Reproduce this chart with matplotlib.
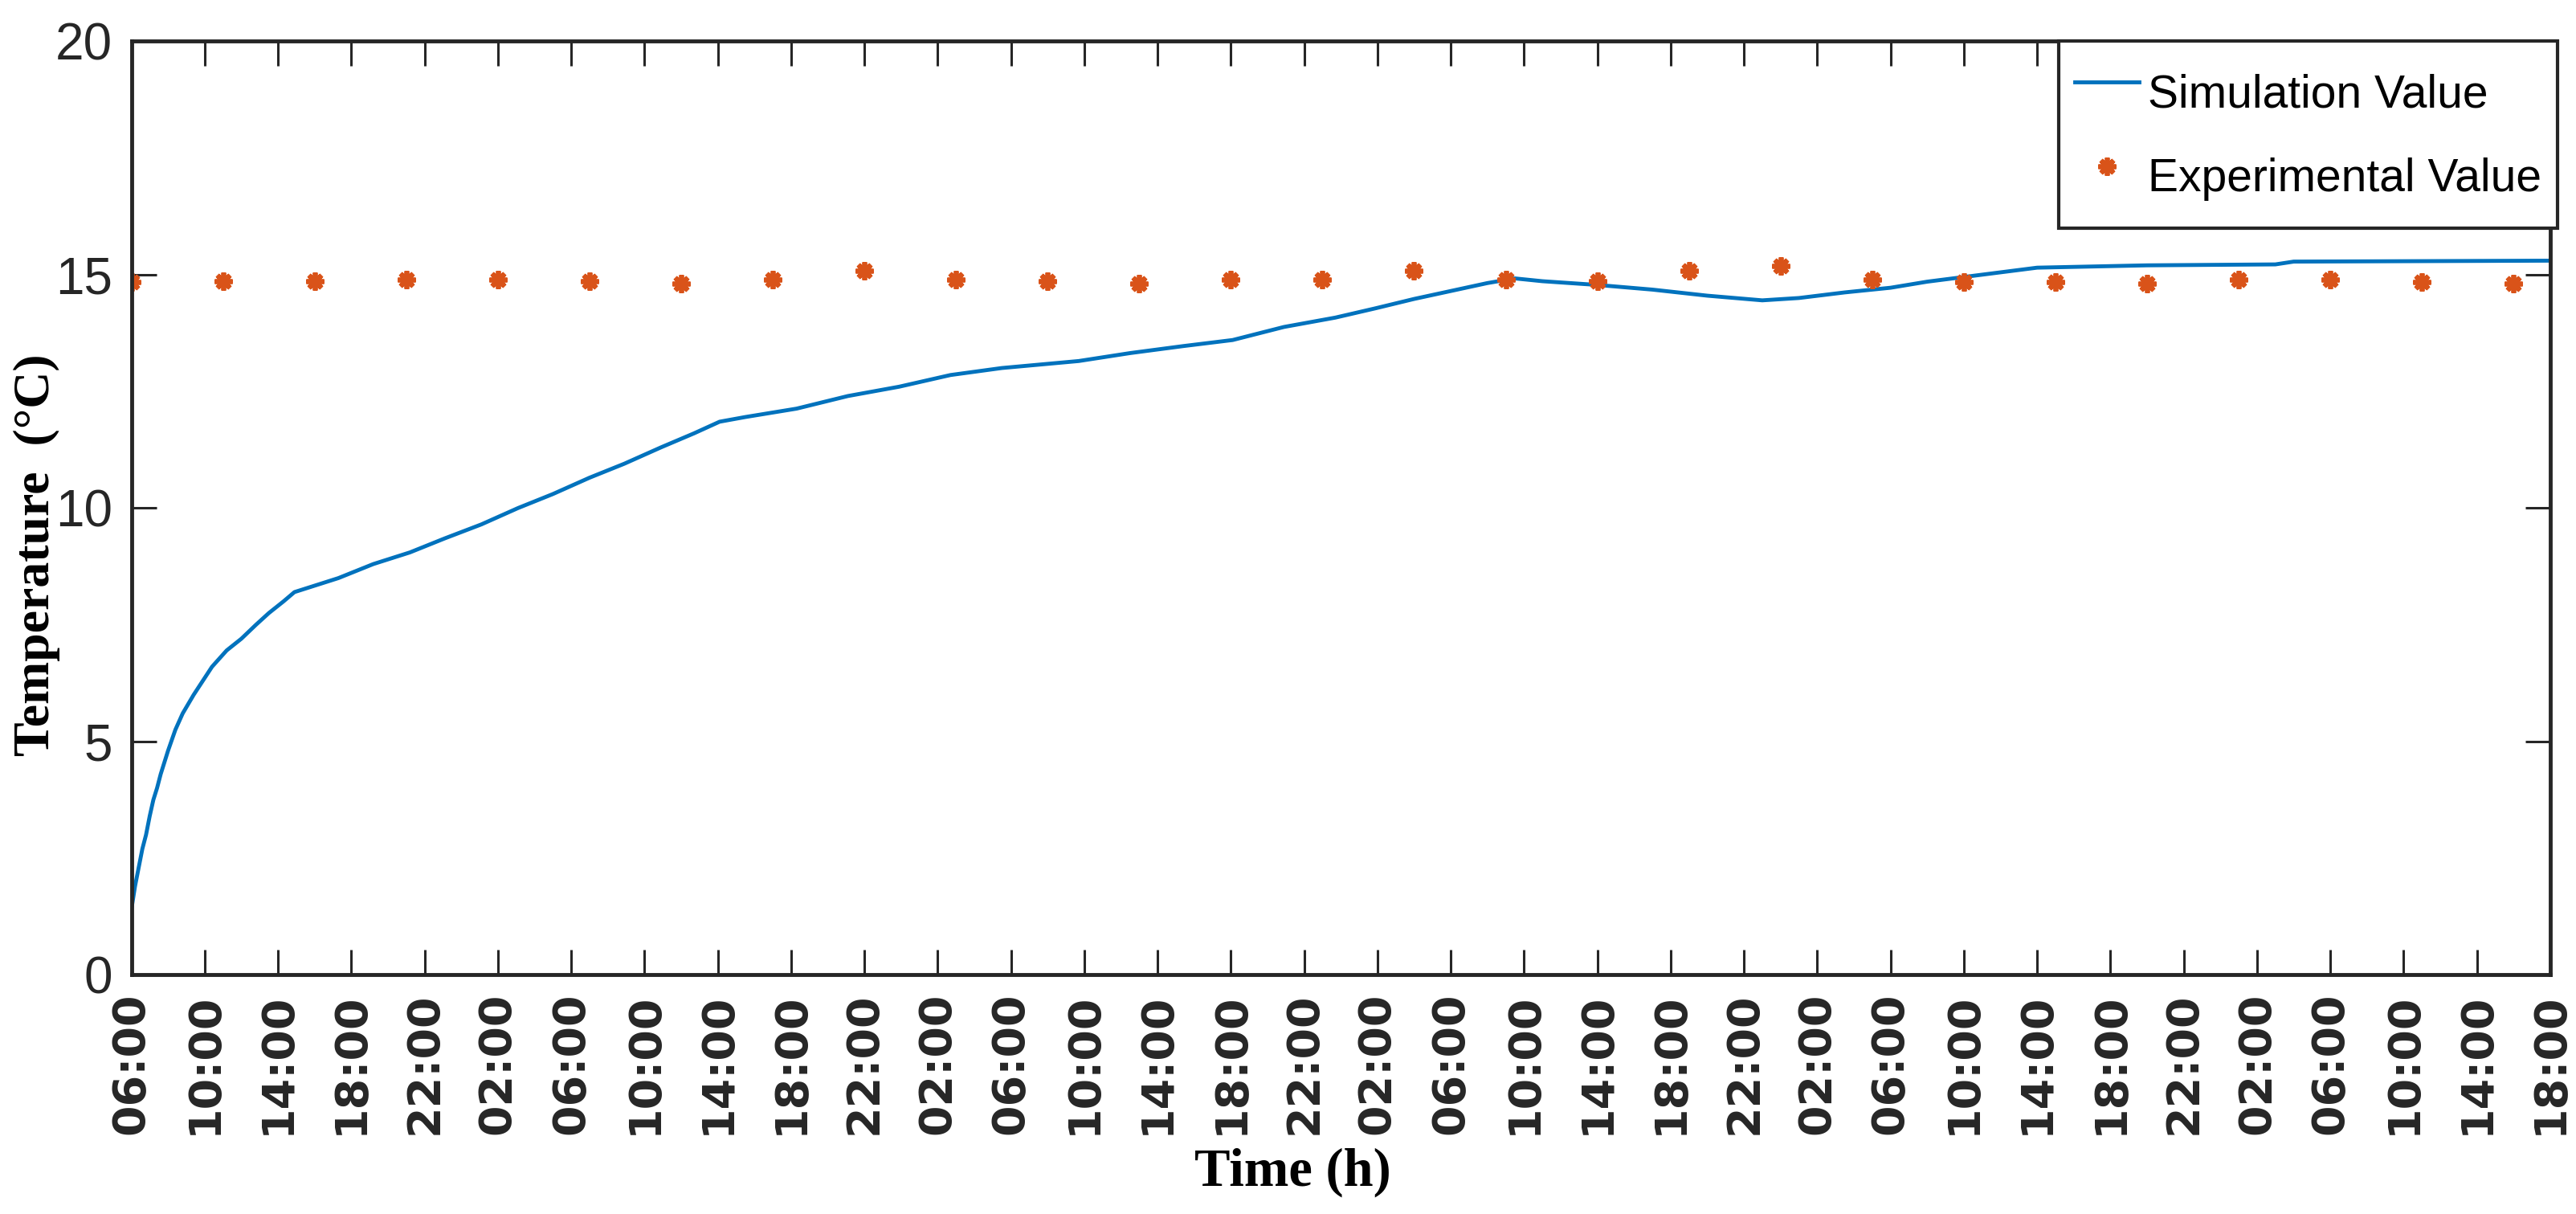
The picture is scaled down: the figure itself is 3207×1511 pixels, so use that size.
import matplotlib.pyplot as plt
import numpy as np

# simulation curve, hours since 06:00 on day 1
sim_hours = [0, 0.2, 0.4, 0.6, 0.8, 1.0, 1.2, 1.4, 1.6, 1.8, 2.0, 2.4, 2.8, 3.4, 3.9,
             4.4, 5.2, 6.0, 6.8, 7.5, 8.3, 8.9, 9.7, 11.3, 13.2, 15.2, 17.1, 19.1,
             21.1, 23.0, 25.0, 26.9, 28.9, 30.7, 32.1, 33.5, 36.3, 39.1, 41.9, 44.7,
             47.5, 51.7, 54.5, 57.4, 60.1, 62.9, 65.7, 67.9, 70.0, 72.0, 74.0, 75.5,
             77.0, 80.0, 83.0, 86.0, 89.0, 91.0, 93.5, 96.0, 98.0, 100.0, 102.0,
             104.0, 110.0, 117.0, 118.0, 132.0]
sim_temp = [1.4, 1.9, 2.3, 2.7, 3.0, 3.4, 3.75, 4.0, 4.3, 4.55, 4.8, 5.25, 5.6, 6.0, 6.3,
            6.6, 6.95, 7.2, 7.5, 7.75, 8.0, 8.2, 8.3, 8.5, 8.8, 9.05, 9.35, 9.65,
            10.0, 10.3, 10.65, 10.95, 11.3, 11.6, 11.85, 11.95, 12.13, 12.4, 12.6, 12.85,
            13.0, 13.15, 13.32, 13.47, 13.6, 13.88, 14.08, 14.28, 14.48, 14.65, 14.82, 14.92,
            14.86, 14.78, 14.68, 14.55, 14.45, 14.5, 14.62, 14.72, 14.85, 14.95, 15.05,
            15.15, 15.2, 15.22, 15.28, 15.3]

# measured points, every 5 hours
exp_hours = list(range(0, 131, 5))
exp_temp = [14.85, 14.86, 14.86, 14.9, 14.9, 14.86, 14.8, 14.9, 15.09, 14.9,
            14.86, 14.81, 14.9, 14.9, 15.09, 14.9, 14.86, 15.09, 15.19, 14.9,
            14.85, 14.85, 14.81, 14.9, 14.9, 14.85, 14.8]

tick_hours = list(range(0, 133, 4))
tick_labels = ["%02d:00" % ((6 + h) % 24) for h in tick_hours]

narrow = ['DejaVu Sans Condensed', 'Liberation Sans']
dark = '#262626'

fig = plt.figure(figsize=(32.07, 15.11), dpi=100)
ax = fig.add_axes([0.051, 0.197, 0.939, 0.769])

ax.plot(sim_hours, sim_temp, color='#0072BD', lw=3.5, label='Simulation Value')
ax.plot(exp_hours, exp_temp, ls='none', marker=(8, 2, 0), ms=16, mew=4.2,
        color='#D95319', label='Experimental Value')

ax.set_xlim(0, 132)
ax.set_ylim(0, 20)
ax.set_xticks(tick_hours)
ax.set_xticklabels(tick_labels, rotation=90, family='DejaVu Sans',
                   fontweight='bold', fontsize=40, color=dark)
ax.set_yticks([0, 5, 10, 15, 20])
ax.set_yticklabels(['0', '5', '10', '15', '20'], family=narrow, fontsize=46, color=dark)

ax.tick_params(axis='both', direction='in', length=22, width=2.2, color=dark,
               top=True, right=True)
ax.tick_params(axis='x', pad=16)
ax.tick_params(axis='y', pad=17)
for s in ax.spines.values():
    s.set_linewidth(3.5)
    s.set_color(dark)

ax.set_xlabel('Time (h)', family='Liberation Serif', fontweight='bold', fontsize=48)
ax.xaxis.set_label_coords(0.48, -0.185)
ax.set_ylabel('Temperature  (°C)', family='Liberation Serif', fontweight='bold', fontsize=46)
ax.yaxis.set_label_coords(-0.039, 0.45)
ax.yaxis.label.set_va('center')

leg = ax.legend(loc='upper right', bbox_to_anchor=(1.003, 1.0), borderaxespad=0,
                prop={'family': narrow, 'size': 41}, fancybox=False,
                borderpad=0.35, handleheight=2.0, labelspacing=0.3,
                handlelength=1.4, handletextpad=0.2)
leg.get_frame().set_edgecolor(dark)
leg.get_frame().set_linewidth(3)
leg.get_frame().set_alpha(1)

fig.savefig('out.png', dpi=100)
